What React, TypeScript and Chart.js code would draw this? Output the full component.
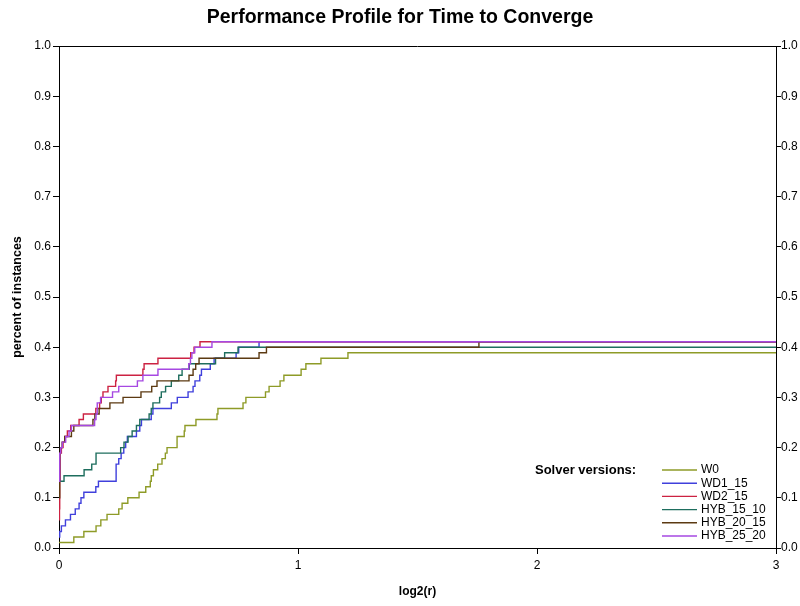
import React, { useEffect, useRef } from "react";
import { Chart, registerables } from "chart.js";

Chart.register(...registerables);

const chartTitle = "Performance Profile for Time to Converge";
const xAxisTitle = "log2(r)";
const yAxisTitle = "percent of instances";
const legendTitle = "Solver versions:";

const seriesNames = ["W0", "WD1_15", "WD2_15", "HYB_15_10", "HYB_20_15", "HYB_25_20"];
const seriesColors = ["#8e9b27", "#4040dc", "#cc2242", "#1e6e5e", "#5c3a12", "#a648e2"];

const xTickValues = [0, 1, 2, 3];

// W0
const w0X = [0, 0.062, 0.104, 0.155, 0.175, 0.201, 0.25, 0.264, 0.288, 0.335, 0.363, 0.382, 0.386, 0.395, 0.413, 0.431, 0.445, 0.452, 0.494, 0.524, 0.527, 0.573, 0.661, 0.665, 0.77, 0.782, 0.864, 0.879, 0.925, 0.941, 1.013, 1.033, 1.096, 1.209, 3];
const w0Y = [0.011, 0.022, 0.033, 0.044, 0.056, 0.067, 0.078, 0.089, 0.1, 0.111, 0.122, 0.133, 0.144, 0.156, 0.167, 0.178, 0.189, 0.2, 0.222, 0.233, 0.244, 0.256, 0.267, 0.278, 0.289, 0.3, 0.311, 0.322, 0.333, 0.344, 0.356, 0.367, 0.378, 0.389, 0.389];

// WD1_15
const wd1X = [0, 0.003, 0.01, 0.027, 0.048, 0.068, 0.084, 0.092, 0.104, 0.154, 0.165, 0.239, 0.25, 0.26, 0.271, 0.279, 0.286, 0.324, 0.338, 0.345, 0.386, 0.393, 0.47, 0.495, 0.54, 0.561, 0.569, 0.589, 0.596, 0.633, 0.649, 0.741, 0.752, 0.837, 3];
const wd1Y = [0.022, 0.033, 0.044, 0.056, 0.067, 0.078, 0.089, 0.1, 0.111, 0.122, 0.133, 0.167, 0.178, 0.189, 0.2, 0.211, 0.222, 0.233, 0.244, 0.256, 0.267, 0.278, 0.289, 0.3, 0.311, 0.322, 0.333, 0.344, 0.356, 0.367, 0.378, 0.389, 0.4, 0.411, 0.411];

// WD2_15
const wd2X = [0, 0.002, 0.003, 0.005, 0.01, 0.017, 0.024, 0.035, 0.049, 0.084, 0.102, 0.154, 0.17, 0.177, 0.184, 0.205, 0.237, 0.24, 0.351, 0.356, 0.414, 0.551, 0.565, 0.59, 3];
const wd2Y = [0.056, 0.078, 0.133, 0.189, 0.2, 0.211, 0.222, 0.233, 0.244, 0.256, 0.267, 0.278, 0.289, 0.3, 0.311, 0.322, 0.333, 0.344, 0.356, 0.367, 0.378, 0.389, 0.4, 0.411, 0.411];

// HYB_15_10
const hyb15X = [0, 0.021, 0.105, 0.137, 0.155, 0.258, 0.272, 0.289, 0.306, 0.324, 0.338, 0.377, 0.386, 0.393, 0.421, 0.428, 0.446, 0.47, 0.501, 0.515, 0.545, 0.655, 0.693, 0.749, 3];
const hyb15Y = [0.133, 0.144, 0.156, 0.167, 0.189, 0.2, 0.211, 0.222, 0.233, 0.244, 0.256, 0.267, 0.278, 0.289, 0.3, 0.311, 0.322, 0.333, 0.344, 0.356, 0.367, 0.378, 0.389, 0.4, 0.4];

// HYB_20_15
const hyb20X = [0, 0.003, 0.006, 0.013, 0.024, 0.052, 0.062, 0.142, 0.15, 0.168, 0.213, 0.268, 0.343, 0.388, 0.41, 0.544, 0.561, 0.572, 0.586, 0.837, 0.868, 1.757, 3];
const hyb20Y = [0.1, 0.189, 0.2, 0.211, 0.222, 0.233, 0.244, 0.256, 0.267, 0.278, 0.289, 0.3, 0.311, 0.322, 0.333, 0.344, 0.356, 0.367, 0.378, 0.389, 0.4, 0.411, 0.411];

// HYB_25_20
const hyb25X = [0, 0.003, 0.007, 0.014, 0.028, 0.042, 0.052, 0.149, 0.155, 0.16, 0.174, 0.224, 0.25, 0.328, 0.351, 0.414, 0.543, 0.55, 0.556, 0.568, 0.64, 3];
const hyb25Y = [0.133, 0.189, 0.2, 0.211, 0.222, 0.233, 0.244, 0.256, 0.267, 0.289, 0.3, 0.311, 0.322, 0.333, 0.344, 0.356, 0.367, 0.378, 0.389, 0.4, 0.411, 0.411];

const seriesX = [w0X, wd1X, wd2X, hyb15X, hyb20X, hyb25X];
const seriesY = [w0Y, wd1Y, wd2Y, hyb15Y, hyb20Y, hyb25Y];

const FONT = '"Liberation Sans", Arial, Helvetica, sans-serif';

const framePlugin = {
  id: "frameTop",
  afterDraw(chart: any) {
    const { ctx, chartArea } = chart;
    ctx.save();
    ctx.strokeStyle = "#000";
    ctx.lineWidth = 1;
    const y = Math.round(chartArea.top) + 0.5;
    ctx.beginPath();
    ctx.moveTo(chartArea.left, y);
    ctx.lineTo(chartArea.right, y);
    ctx.stroke();
    ctx.restore();
  },
};

const legendPlugin = {
  id: "solverLegend",
  afterDraw(chart: any) {
    const ctx = chart.ctx;
    ctx.save();
    ctx.textBaseline = "middle";
    ctx.textAlign = "left";
    ctx.fillStyle = "#000";
    ctx.font = `bold 13px ${FONT}`;
    ctx.fillText(legendTitle, 535, 470);
    ctx.font = `12px ${FONT}`;
    chart.data.datasets.forEach((ds: any, i: number) => {
      const y = 470 + i * 13.2;
      ctx.strokeStyle = ds.borderColor;
      ctx.lineWidth = 1.4;
      ctx.beginPath();
      ctx.moveTo(662, y);
      ctx.lineTo(697, y);
      ctx.stroke();
      ctx.fillStyle = "#000";
      ctx.fillText(ds.label, 701, y);
    });
    ctx.restore();
  },
};

export default function App() {
  const ref = useRef<HTMLCanvasElement>(null);
  useEffect(() => {
    if (!ref.current) return;
    Chart.defaults.font.family = FONT;
    Chart.defaults.color = "#000";
    const datasets = seriesNames.map((name, i) => ({
      label: name,
      data: seriesX[i].map((x, j) => ({ x, y: seriesY[i][j] })),
      borderColor: seriesColors[i],
      backgroundColor: seriesColors[i],
      borderWidth: 1.4,
      pointRadius: 0,
      stepped: true as const,
      fill: false,
      order: seriesNames.length - 1 - i,
      yAxisID: "y",
    }));
    const chart = new Chart(ref.current, {
      type: "line",
      data: { datasets },
      options: {
        animation: false,
        responsive: false,
        devicePixelRatio: 1,
        layout: { padding: 0 },
        plugins: {
          legend: { display: false },
          tooltip: { enabled: false },
          title: {
            display: true,
            text: chartTitle,
            color: "#000",
            font: { size: 19.5, weight: "bold", family: FONT, lineHeight: 1.2 },
            padding: { top: 6, bottom: 16.6 },
          },
        },
        scales: {
          x: {
            type: "linear",
            min: 0,
            max: 3,
            afterFit: (s: any) => {
              s.height = 58;
            },
            afterBuildTicks: (s: any) => {
              s.ticks = xTickValues.map((v) => ({ value: v }));
            },
            ticks: {
              color: "#000",
              font: { size: 12 },
              padding: 4,
              maxRotation: 0,
              callback: (v: any) => String(v),
            },
            grid: { drawOnChartArea: false, drawTicks: true, tickLength: 6, tickColor: "#000" },
            border: { display: true, color: "#000", width: 1 },
            title: {
              display: true,
              text: xAxisTitle,
              color: "#000",
              font: { size: 12, weight: "bold" },
              padding: { top: 0, bottom: 6.8 },
            },
          },
          y: {
            type: "linear",
            position: "left",
            min: 0,
            max: 1,
            afterFit: (s: any) => {
              s.width = 59;
            },
            ticks: {
              stepSize: 0.1,
              color: "#000",
              font: { size: 12 },
              padding: 2,
              callback: (v: any) => Number(v).toFixed(1),
            },
            grid: { drawOnChartArea: false, drawTicks: true, tickLength: 6, tickColor: "#000" },
            border: { display: true, color: "#000", width: 1 },
            title: {
              display: true,
              text: yAxisTitle,
              color: "#000",
              font: { size: 12.5, weight: "bold" },
              padding: { top: 10.5, bottom: 0 },
            },
          },
          y2: {
            type: "linear",
            position: "right",
            min: 0,
            max: 1,
            afterFit: (s: any) => {
              s.width = 24;
            },
            ticks: {
              stepSize: 0.1,
              color: "#000",
              font: { size: 12 },
              padding: 0,
              callback: (v: any) => Number(v).toFixed(1),
            },
            grid: { drawOnChartArea: false, drawTicks: true, tickLength: 5, tickColor: "#000" },
            border: { display: true, color: "#000", width: 1 },
          },
        },
      },
      plugins: [framePlugin, legendPlugin],
    } as any);
    return () => chart.destroy();
  }, []);
  return (
    <div style={{ position: "absolute", left: 0, top: 0, width: 800, height: 606, background: "#fff" }}>
      <canvas ref={ref} width={800} height={606} style={{ display: "block", width: 800, height: 606 }} />
    </div>
  );
}
